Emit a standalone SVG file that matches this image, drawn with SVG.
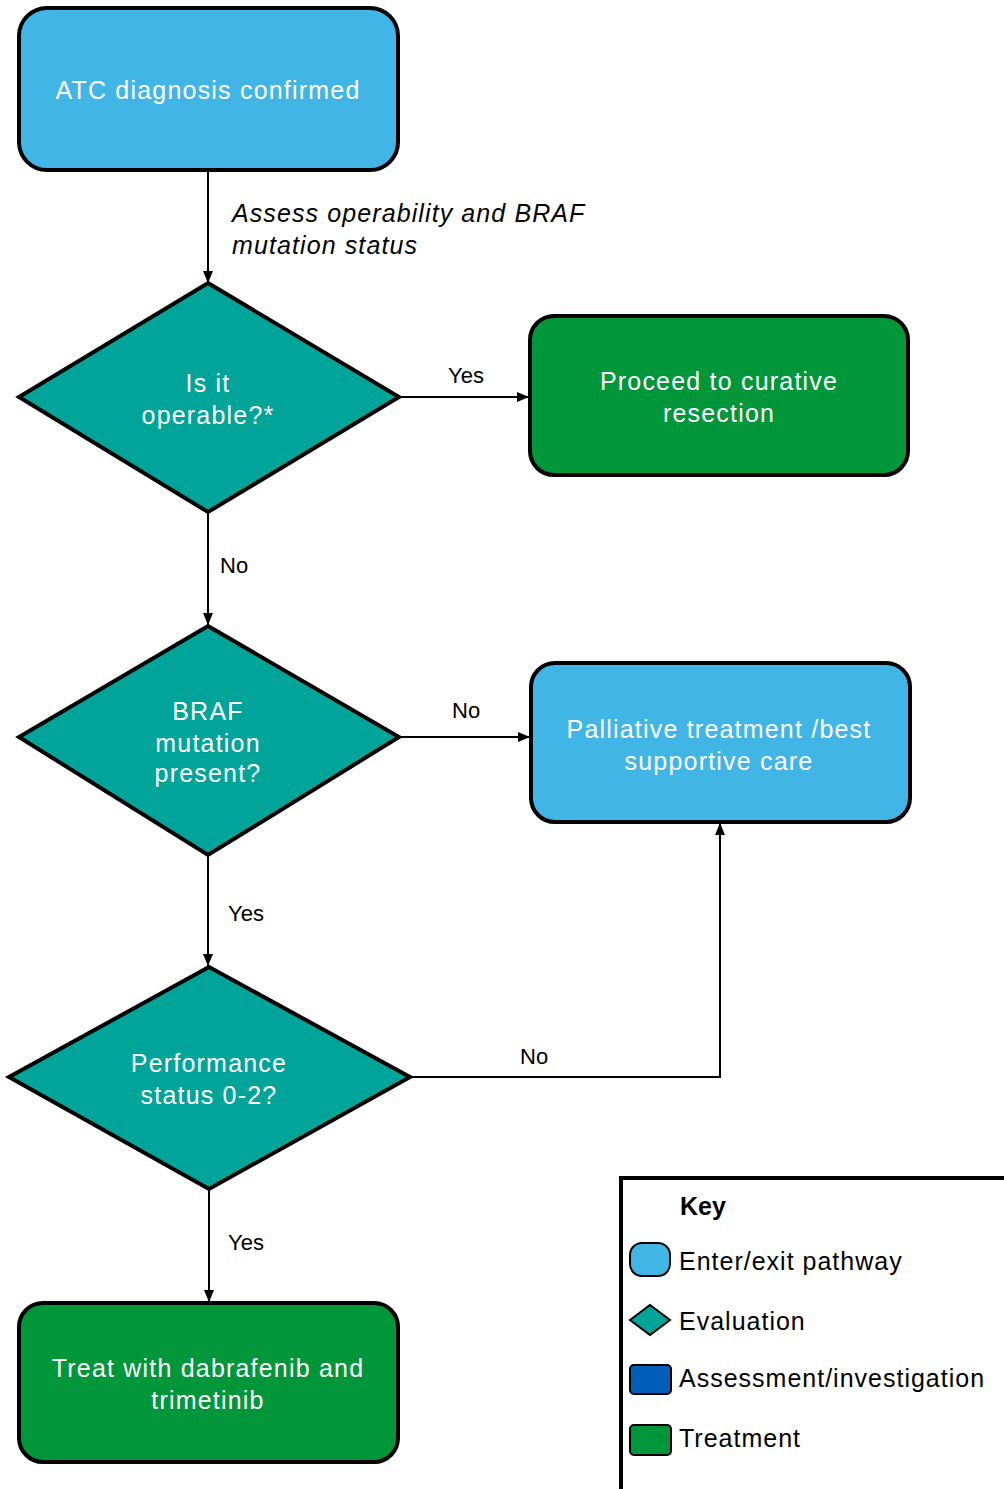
<svg xmlns="http://www.w3.org/2000/svg" width="1004" height="1489" viewBox="0 0 1004 1489">
<defs>
<marker id="arr" markerWidth="12" markerHeight="12" viewBox="0 0 12 12" refX="12" refY="6" orient="auto" markerUnits="userSpaceOnUse">
<path d="M0,1 L12,6 L0,11 Z" fill="#000"/>
</marker>
</defs>
<style>
.blue{fill:#41B6E6;stroke:#000;stroke-width:4}
.teal{fill:#00A499;stroke:#000;stroke-width:4;stroke-linejoin:miter}
.green{fill:#009639;stroke:#000;stroke-width:4}
.nt{font-family:"Liberation Sans",Arial,sans-serif;font-size:25px;fill:#fff;text-anchor:middle;letter-spacing:1.2px}
.lbl{font-family:"Liberation Sans",Arial,sans-serif;font-size:22px;fill:#000}
.it{font-family:"Liberation Sans",Arial,sans-serif;font-size:25px;font-style:italic;fill:#000;letter-spacing:1.1px}
.kt{font-family:"Liberation Sans",Arial,sans-serif;font-size:25px;fill:#000;letter-spacing:1px}
.con{fill:none;stroke:#000;stroke-width:2}
</style>
<rect width="1004" height="1489" fill="#fff"/>
<g id="connectors">
<line class="con" x1="208" y1="170" x2="208" y2="283" marker-end="url(#arr)"/>
<text class="it" x="232" y="222">Assess operability and BRAF</text>
<text class="it" x="232" y="254">mutation status</text>
<line class="con" x1="399" y1="397" x2="529" y2="397" marker-end="url(#arr)"/>
<text class="lbl" x="448" y="383">Yes</text>
<line class="con" x1="208" y1="512" x2="208" y2="625" marker-end="url(#arr)"/>
<text class="lbl" x="220" y="573">No</text>
<line class="con" x1="399" y1="737" x2="530" y2="737" marker-end="url(#arr)"/>
<text class="lbl" x="452" y="718">No</text>
<line class="con" x1="208" y1="855" x2="208" y2="966" marker-end="url(#arr)"/>
<text class="lbl" x="228" y="921">Yes</text>
<polyline class="con" points="410,1077 720,1077 720,823" marker-end="url(#arr)"/>
<text class="lbl" x="520" y="1064">No</text>
<line class="con" x1="209" y1="1189" x2="209" y2="1302" marker-end="url(#arr)"/>
<text class="lbl" x="228" y="1250">Yes</text>
</g>
<g id="n1">
<rect class="blue" x="19" y="8" width="379" height="162" rx="28"/>
<text class="nt" x="208" y="99">ATC diagnosis confirmed</text>
</g>
<g id="n2">
<polygon class="teal" points="208,283 399,397 208,512 19,397"/>
<text class="nt" x="208" y="392">Is it</text>
<text class="nt" x="208" y="424">operable?*</text>
</g>
<g id="n3">
<rect class="green" x="530" y="316" width="378" height="159" rx="24"/>
<text class="nt" x="719" y="390">Proceed to curative</text>
<text class="nt" x="719" y="422">resection</text>
</g>
<g id="n4">
<polygon class="teal" points="208,626 399,737 208,855 19,737"/>
<text class="nt" x="208" y="720">BRAF</text>
<text class="nt" x="208" y="752">mutation</text>
<text class="nt" x="208" y="782">present?</text>
</g>
<g id="n5">
<rect class="blue" x="531" y="663" width="379" height="159" rx="24"/>
<text class="nt" x="719" y="738">Palliative treatment /best</text>
<text class="nt" x="719" y="770">supportive care</text>
</g>
<g id="n6">
<polygon class="teal" points="209,967 410,1077 209,1189 9,1077"/>
<text class="nt" x="209" y="1072">Performance</text>
<text class="nt" x="209" y="1104">status 0-2?</text>
</g>
<g id="n7">
<rect class="green" x="19" y="1303" width="379" height="159" rx="24"/>
<text class="nt" x="208" y="1377">Treat with dabrafenib and</text>
<text class="nt" x="208" y="1409">trimetinib</text>
</g>
<g id="key">
<path d="M1006,1178 L621,1178 L621,1491" fill="none" stroke="#000" stroke-width="4"/>
<text x="680" y="1215" font-family="Liberation Sans,Arial,sans-serif" font-size="25" font-weight="bold">Key</text>
<rect x="630" y="1243" width="40" height="33" rx="12" fill="#41B6E6" stroke="#000" stroke-width="2"/>
<text class="kt" x="679" y="1270">Enter/exit pathway</text>
<polygon points="630,1320 650,1305 670,1320 650,1335" fill="#00A499" stroke="#000" stroke-width="2"/>
<text class="kt" x="679" y="1330">Evaluation</text>
<rect x="630" y="1365" width="41" height="29" rx="4" fill="#005EB8" stroke="#000" stroke-width="2"/>
<text class="kt" x="679" y="1387">Assessment/investigation</text>
<rect x="630" y="1425" width="41" height="30" rx="4" fill="#009639" stroke="#000" stroke-width="2"/>
<text class="kt" x="679" y="1447">Treatment</text>
</g>
</svg>
